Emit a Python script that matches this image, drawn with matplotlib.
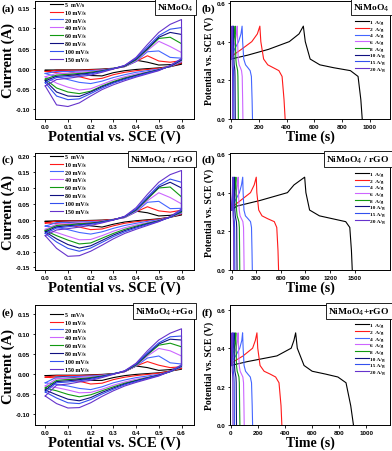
import matplotlib
matplotlib.use("Agg")
import matplotlib.pyplot as plt
from matplotlib.ticker import FormatStrFormatter

W, H = 392, 452

# ---------------- data ----------------
scan_labels = ["5  mV/s", "10 mV/s", "20 mV/s", "40 mV/s", "60 mV/s", "80 mV/s", "100 mV/s", "150 mV/s"]
gcd_labels = ["1  A/g", "2  A/g", "4  A/g", "6  A/g", "8  A/g", "10 A/g", "15 A/g", "20 A/g"]
colors = ["#000000", "#ff1a1a", "#4466ff", "#cc66ff", "#119911", "#101080", "#3350ee", "#6633cc"]

cv_v = [0.0, 0.05, 0.10, 0.15, 0.20, 0.25, 0.30, 0.35, 0.40, 0.45, 0.50, 0.55, 0.60]

# panel (a) NiMoO4: anodic (upper) and cathodic (lower) branches
a_up = [
    [-0.004, -0.003, -0.003, -0.003, -0.002, -0.001, 0.001, 0.006, 0.021, 0.016, 0.009, 0.010, 0.013],
    [-0.007, -0.004, -0.004, -0.004, -0.003, -0.002, 0.000, 0.005, 0.018, 0.032, 0.019, 0.016, 0.020],
    [-0.012, -0.007, -0.007, -0.006, -0.005, -0.003, 0.000, 0.005, 0.018, 0.042, 0.044, 0.028, 0.026],
    [-0.020, -0.012, -0.011, -0.009, -0.007, -0.004, 0.000, 0.006, 0.020, 0.045, 0.068, 0.055, 0.040],
    [-0.026, -0.016, -0.014, -0.012, -0.009, -0.005, 0.000, 0.006, 0.022, 0.048, 0.075, 0.078, 0.062],
    [-0.030, -0.019, -0.017, -0.014, -0.011, -0.006, 0.000, 0.007, 0.024, 0.050, 0.078, 0.090, 0.085],
    [-0.035, -0.022, -0.020, -0.017, -0.013, -0.007, 0.000, 0.008, 0.026, 0.054, 0.082, 0.098, 0.102],
    [-0.043, -0.027, -0.024, -0.020, -0.016, -0.009, -0.001, 0.008, 0.028, 0.060, 0.090, 0.110, 0.122],
]
a_down = [
    [-0.004, -0.005, -0.007, -0.011, -0.017, -0.018, -0.010, -0.005, -0.002, 0.000, 0.002, 0.005, 0.011],
    [-0.007, -0.010, -0.014, -0.020, -0.027, -0.024, -0.015, -0.009, -0.005, -0.002, 0.001, 0.005, 0.014],
    [-0.012, -0.020, -0.027, -0.034, -0.037, -0.031, -0.022, -0.015, -0.009, -0.005, -0.001, 0.005, 0.017],
    [-0.020, -0.036, -0.046, -0.053, -0.050, -0.039, -0.028, -0.020, -0.013, -0.008, -0.002, 0.006, 0.019],
    [-0.026, -0.048, -0.058, -0.062, -0.056, -0.043, -0.032, -0.023, -0.016, -0.009, -0.003, 0.006, 0.021],
    [-0.030, -0.058, -0.068, -0.069, -0.058, -0.045, -0.034, -0.025, -0.017, -0.010, -0.003, 0.006, 0.022],
    [-0.035, -0.068, -0.077, -0.075, -0.062, -0.048, -0.036, -0.027, -0.019, -0.011, -0.004, 0.007, 0.024],
    [-0.043, -0.090, -0.094, -0.085, -0.068, -0.052, -0.040, -0.030, -0.021, -0.013, -0.005, 0.008, 0.025],
]

# panel (c) NiMoO4 / rGO
c_up = [
    [-0.005, -0.003, -0.003, -0.003, -0.002, -0.001, 0.001, 0.008, 0.027, 0.022, 0.012, 0.014, 0.020],
    [-0.010, -0.004, -0.004, -0.004, -0.003, -0.002, 0.001, 0.007, 0.025, 0.041, 0.028, 0.024, 0.030],
    [-0.020, -0.009, -0.008, -0.007, -0.006, -0.004, 0.000, 0.007, 0.025, 0.055, 0.058, 0.035, 0.036],
    [-0.030, -0.014, -0.012, -0.010, -0.008, -0.005, 0.000, 0.008, 0.028, 0.060, 0.085, 0.070, 0.050],
    [-0.034, -0.018, -0.016, -0.013, -0.010, -0.006, 0.000, 0.009, 0.030, 0.065, 0.100, 0.103, 0.072],
    [-0.038, -0.022, -0.019, -0.016, -0.012, -0.007, 0.000, 0.010, 0.032, 0.068, 0.103, 0.118, 0.100],
    [-0.043, -0.026, -0.022, -0.018, -0.014, -0.008, 0.000, 0.010, 0.034, 0.072, 0.108, 0.128, 0.118],
    [-0.050, -0.032, -0.028, -0.023, -0.018, -0.010, -0.001, 0.011, 0.038, 0.080, 0.118, 0.142, 0.155],
]
c_down = [
    [-0.005, -0.006, -0.008, -0.012, -0.019, -0.023, -0.014, -0.007, -0.003, 0.000, 0.003, 0.008, 0.015],
    [-0.010, -0.012, -0.016, -0.023, -0.031, -0.029, -0.019, -0.011, -0.006, -0.002, 0.002, 0.008, 0.018],
    [-0.020, -0.024, -0.031, -0.040, -0.045, -0.038, -0.027, -0.018, -0.011, -0.005, 0.000, 0.008, 0.020],
    [-0.030, -0.040, -0.052, -0.063, -0.062, -0.050, -0.036, -0.025, -0.016, -0.009, -0.002, 0.008, 0.022],
    [-0.034, -0.050, -0.064, -0.076, -0.073, -0.058, -0.043, -0.030, -0.020, -0.011, -0.003, 0.008, 0.024],
    [-0.038, -0.060, -0.078, -0.089, -0.082, -0.065, -0.048, -0.034, -0.023, -0.013, -0.004, 0.008, 0.027],
    [-0.043, -0.070, -0.090, -0.099, -0.089, -0.071, -0.053, -0.038, -0.026, -0.015, -0.005, 0.008, 0.030],
    [-0.050, -0.090, -0.115, -0.113, -0.099, -0.080, -0.060, -0.043, -0.030, -0.018, -0.006, 0.010, 0.034],
]

# panel (e) NiMoO4+rGo
e_up = [
    [-0.004, -0.003, -0.003, -0.003, -0.002, -0.001, 0.001, 0.006, 0.020, 0.016, 0.009, 0.011, 0.016],
    [-0.008, -0.004, -0.004, -0.004, -0.003, -0.002, 0.000, 0.006, 0.020, 0.031, 0.022, 0.016, 0.018],
    [-0.022, -0.008, -0.007, -0.006, -0.005, -0.003, 0.000, 0.006, 0.020, 0.040, 0.045, 0.028, 0.025],
    [-0.030, -0.012, -0.011, -0.009, -0.007, -0.004, 0.000, 0.006, 0.021, 0.045, 0.064, 0.058, 0.045],
    [-0.035, -0.016, -0.014, -0.012, -0.009, -0.005, 0.000, 0.007, 0.022, 0.048, 0.072, 0.077, 0.068],
    [-0.040, -0.019, -0.017, -0.014, -0.011, -0.006, 0.000, 0.007, 0.024, 0.050, 0.075, 0.087, 0.085],
    [-0.045, -0.022, -0.020, -0.017, -0.013, -0.007, 0.000, 0.008, 0.025, 0.053, 0.078, 0.093, 0.095],
    [-0.055, -0.028, -0.025, -0.020, -0.016, -0.009, -0.001, 0.008, 0.027, 0.058, 0.085, 0.102, 0.113],
]
e_down = [
    [-0.004, -0.005, -0.007, -0.010, -0.016, -0.016, -0.009, -0.004, -0.001, 0.001, 0.003, 0.007, 0.012],
    [-0.008, -0.010, -0.013, -0.018, -0.025, -0.023, -0.014, -0.008, -0.004, -0.001, 0.002, 0.007, 0.014],
    [-0.022, -0.026, -0.030, -0.036, -0.039, -0.032, -0.022, -0.015, -0.009, -0.005, -0.001, 0.006, 0.017],
    [-0.030, -0.034, -0.040, -0.047, -0.046, -0.038, -0.028, -0.020, -0.013, -0.008, -0.002, 0.006, 0.018],
    [-0.035, -0.042, -0.051, -0.057, -0.052, -0.042, -0.032, -0.023, -0.016, -0.009, -0.003, 0.006, 0.019],
    [-0.040, -0.052, -0.063, -0.067, -0.059, -0.046, -0.035, -0.025, -0.017, -0.010, -0.003, 0.006, 0.020],
    [-0.045, -0.060, -0.072, -0.074, -0.064, -0.050, -0.038, -0.027, -0.019, -0.011, -0.004, 0.006, 0.021],
    [-0.055, -0.074, -0.085, -0.084, -0.072, -0.056, -0.042, -0.030, -0.021, -0.013, -0.005, 0.007, 0.023],
]

# galvanostatic charge/discharge: potential points shared, times per curve
gcd_v = [0.31, 0.33, 0.36, 0.40, 0.44, 0.48, 0.40, 0.31, 0.28, 0.265, 0.25, 0.22, 0.10, 0.0]

b_t = [
    [0, 120, 270, 420, 490, 521, 535, 570, 640, 740, 860, 915, 935, 945],
    [0, 15, 75, 150, 190, 208, 215, 235, 265, 305, 345, 368, 382, 390],
    [0, 5, 25, 55, 72, 80, 84, 92, 105, 122, 138, 147, 152, 155],
    [0, 3, 14, 30, 40, 45, 48, 52, 59, 68, 76, 81, 84, 86],
    [0, 2, 9, 19, 26, 30, 32, 35, 39, 44, 48, 50, 52, 53],
    [0, 1, 5, 11, 15, 18, 19, 21, 23, 26, 28, 29, 30, 31],
    [0, 1, 3, 7, 10, 12, 13, 14, 15, 17, 18, 19, 20, 20.5],
    [0, 0.5, 2, 4, 6, 7, 7.5, 8, 9, 10, 11, 11.5, 12, 12.5],
]
d_t = [
    [0, 60, 350, 680, 760, 890, 905, 950, 1070, 1230, 1390, 1440, 1460, 1470],
    [0, 20, 110, 230, 275, 300, 307, 330, 370, 440, 520, 550, 565, 572],
    [0, 8, 45, 95, 120, 135, 140, 150, 168, 200, 230, 242, 248, 252],
    [0, 5, 25, 55, 70, 80, 84, 92, 103, 120, 137, 145, 149, 152],
    [0, 3, 15, 35, 45, 52, 55, 60, 67, 78, 88, 94, 97, 99],
    [0, 2, 10, 22, 29, 34, 36, 39, 44, 51, 58, 62, 64, 66],
    [0, 1, 6, 13, 17, 20, 21, 23, 26, 30, 34, 36, 38, 39],
    [0, 1, 4, 8, 11, 13, 14, 15, 17, 20, 22, 24, 25, 26],
]
f_t = [
    [0, 120, 340, 445, 465, 478, 490, 540, 600, 700, 790, 850, 885, 905],
    [0, 20, 90, 160, 180, 192, 198, 215, 245, 290, 330, 355, 370, 376],
    [0, 6, 35, 65, 80, 86, 90, 97, 108, 125, 143, 152, 157, 160],
    [0, 4, 18, 38, 48, 53, 56, 61, 68, 78, 88, 93, 96, 98],
    [0, 3, 12, 25, 32, 36, 38, 41, 46, 53, 59, 62, 64, 66],
    [0, 2, 7, 15, 20, 23, 24, 26, 29, 33, 37, 39, 40, 41],
    [0, 1, 4, 9, 12, 14, 15, 16, 18, 20, 22, 24, 25, 25.5],
    [0, 0.5, 2, 5, 7, 8, 8.5, 9, 10, 12, 13, 14, 14.5, 15],
]

b_xticks = [0, 200, 400, 600, 800, 1000]
d_xticks = [0, 300, 600, 900, 1200, 1500]
f_xticks = [0, 200, 400, 600, 800, 1000]

# ---------------- figure ----------------
fig = plt.figure(figsize=(W / 100, H / 100), dpi=100)

SERIF = "Liberation Serif"
SANS = "Liberation Sans"


def axes_px(x0, y0, x1, y1):
    return fig.add_axes([x0 / W, 1 - y1 / H, (x1 - x0) / W, (y1 - y0) / H])


def style(ax):
    for s in ax.spines.values():
        s.set_linewidth(0.7)
    ax.tick_params(direction="out", length=1.8, width=0.6, pad=1.5, top=False, right=False)
    for lab in ax.get_xticklabels() + ax.get_yticklabels():
        lab.set_fontfamily(SANS)
        lab.set_fontweight("bold")
        lab.set_fontsize(4.5)


def tag(ax, text):
    ax.text(0.997, 0.995, text, transform=ax.transAxes, ha="right", va="top",
            fontfamily=SERIF, fontweight="bold", fontsize=6.8,
            bbox=dict(boxstyle="square,pad=0.25", fc="white", ec="black", lw=0.6))


def cv_panel(rect, up, down, ylim, yticks, name, leg_anchor):
    ax = axes_px(*rect)
    for i in range(len(up)):
        ax.plot(cv_v + cv_v[::-1], up[i] + down[i][::-1], color=colors[i], lw=0.8,
                label=scan_labels[i])
    ax.set_xlim(-0.045, 0.655)
    ax.set_ylim(*ylim)
    ax.set_xticks([0.0, 0.1, 0.2, 0.3, 0.4, 0.5, 0.6])
    ax.set_yticks(yticks)
    ax.xaxis.set_major_formatter(FormatStrFormatter("%.1f"))
    ax.yaxis.set_major_formatter(FormatStrFormatter("%.2f"))
    style(ax)
    ax.set_xlabel("Potential vs. SCE (V)", fontfamily=SERIF, fontweight="bold", fontsize=10.5, labelpad=1)
    ax.set_ylabel("Current (A)", fontfamily=SERIF, fontweight="bold", fontsize=10.5, labelpad=1)
    ax.legend(loc="upper left", bbox_to_anchor=leg_anchor, frameon=False,
              prop={"family": SERIF, "weight": "bold", "size": 4.3},
              handlelength=2.2, handletextpad=0.4, labelspacing=0.45,
              borderaxespad=0, borderpad=0.1)
    tag(ax, name)
    return ax


def gcd_panel(rect, times, xlim, xticks, ylim, name, leg_anchor):
    ax = axes_px(*rect)
    for i in range(len(times)):
        ax.plot(times[i], gcd_v, color=colors[i], lw=0.8, label=gcd_labels[i])
    ax.set_xlim(*xlim)
    ax.set_ylim(*ylim)
    ax.set_xticks(xticks)
    ax.set_yticks([0.0, 0.2, 0.4, 0.6])
    ax.yaxis.set_major_formatter(FormatStrFormatter("%.1f"))
    style(ax)
    ax.set_xlabel("Time (s)", fontfamily=SERIF, fontweight="bold", fontsize=10, labelpad=1)
    ax.set_ylabel("Potential vs. SCE (V)", fontfamily=SERIF, fontweight="bold", fontsize=7, labelpad=2)
    ax.legend(loc="upper left", bbox_to_anchor=leg_anchor, frameon=False,
              prop={"family": SERIF, "weight": "bold", "size": 3.9},
              handlelength=2.6, handletextpad=0.3, labelspacing=0.35,
              borderaxespad=0, borderpad=0.1)
    tag(ax, name)
    return ax


cv_panel((35, 2, 194, 120), a_up, a_down, (-0.125, 0.168), [-0.10, -0.05, 0.0, 0.05, 0.10, 0.15],
         r"NiMoO$_4$", (0.09, 1.0))
gcd_panel((230, 2, 390, 120), b_t, (-7, 1145), b_xticks, (0, 0.61), r"NiMoO$_4$", (0.775, 0.85))

cv_panel((35, 154, 194, 271), c_up, c_down, (-0.158, 0.21),
         [-0.15, -0.10, -0.05, 0.0, 0.05, 0.10, 0.15, 0.20], r"NiMoO$_4$ / rGO", (0.09, 1.0))
gcd_panel((230, 154, 390, 271), d_t, (-20, 1930), d_xticks, (0, 0.605), r"NiMoO$_4$ / rGO", (0.775, 0.85))

cv_panel((35, 306, 194, 426), e_up, e_down, (-0.1275, 0.1725), [-0.10, -0.05, 0.0, 0.05, 0.10, 0.15],
         r"NiMoO$_4$+rGo", (0.09, 0.95))
gcd_panel((230, 306, 390, 426), f_t, (-7, 1175), f_xticks, (0, 0.625), r"NiMoO$_4$+rGO", (0.775, 0.86))

for letter, x, y in [("(a)", 2, 9), ("(b)", 201, 9), ("(c)", 2, 160), ("(d)", 201, 160),
                     ("(e)", 2, 313), ("(f)", 201, 313)]:
    fig.text(x / W, 1 - y / H, letter, ha="left", va="center", fontfamily=SERIF,
             fontweight="bold", fontsize=8)

fig.savefig("out.png", dpi=100)
